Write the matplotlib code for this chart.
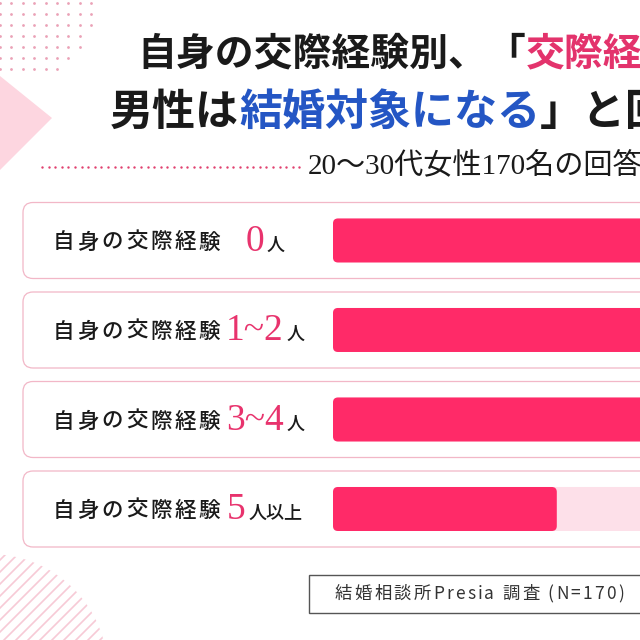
import numpy as np
import matplotlib
matplotlib.use("Agg")
import matplotlib.pyplot as plt
from matplotlib.patches import FancyBboxPatch, Polygon, Circle
from matplotlib.offsetbox import TextArea, HPacker, AnnotationBbox

plt.rcParams['font.family'] = ['Noto Sans CJK JP', 'DejaVu Sans']

# data
label_prefix = "自身の交際経験"
count_nums = ["0", "1~2", "3~4", "5"]
count_units = ["人", "人", "人", "人以上"]
values = [74, 68, 62, 37.3]   # % of track (rows 1-3 run past the crop)

title_line1 = [("自身の交際経験別、「", "#1a1a1a"), ("交際経", "#e3336c")]
title_line2 = [("男性は", "#1a1a1a"), ("結婚対象になる", "#2456c4"), ("」と回", "#1a1a1a")]
subtitle = "20～30代女性170名の回答"
source = "結婚相談所Presia 調査 (N=170)"

PINK = "#ff2a68"
TRACK = "#fde0e9"
SERIF = ['Liberation Serif', 'Noto Sans CJK JP']

fig = plt.figure(figsize=(6.4, 6.4), dpi=100)
ax = fig.add_axes([0, 0, 1, 1])
ax.set_xlim(0, 640)
ax.set_ylim(640, 0)
ax.axis('off')

# decorations: dots, triangle, stripes
row_len = [9, 9, 9, 8, 8, 7, 6]
for r, n in enumerate(row_len):
    xs = np.arange(n) * 11.4
    ax.scatter(xs, np.full(n, 3 + 11 * r), s=4, color="#eaa2b7", lw=0)

ax.add_patch(Polygon([(0, 76), (52, 118), (0, 170)], closed=True,
                     fc="#fdd6e0", ec="none"))

clip = Circle((-10, 672), 118, transform=ax.transData)
for c in np.arange(500, 820, 12):
    ln, = ax.plot([0, c], [c, 0], color="#f7cad6", lw=1.2)
    ln.set_clip_path(clip)


def packed(parts, x, y, sep=0, align=(0, 0.5)):
    areas = [TextArea(s, textprops=tp) for s, tp in parts]
    box = HPacker(children=areas, align="baseline", pad=0, sep=sep)
    ax.add_artist(AnnotationBbox(box, (x, y), xycoords='data',
                                 box_alignment=align, frameon=False, pad=0))


# title
packed([(s, dict(fontsize=28, color=c, weight='bold')) for s, c in title_line1], 137, 54)
packed([(s, dict(fontsize=31, color=c, weight='bold')) for s, c in title_line2], 110, 112)

dots_x = np.arange(42, 300, 6.6)
ax.scatter(dots_x, np.full(len(dots_x), 167), s=3, color="#e0406f", lw=0)
ax.text(308, 166, subtitle, fontsize=21, family=SERIF, color="#1a1a1a",
        ha='left', va='center')

# panels
row_y = 240.5 + 89.5 * np.arange(len(values))
for i, yc in enumerate(row_y):
    ax.add_patch(FancyBboxPatch((23, yc - 38), 720, 76,
                                boxstyle="round,pad=0,rounding_size=10",
                                fc="white", ec="#f2b7c7", lw=0.9))
    for k, ch in enumerate(label_prefix):
        ax.text(53 + 24.3 * k, yc + 2, ch, fontsize=15.5, color="#1a1a1a",
                weight=500, ha='left', va='center')
    packed([(count_nums[i], dict(fontsize=27, family=SERIF, color="#e8336d")),
            (count_units[i], dict(fontsize=13, color="#1a1a1a", weight=500))],
           265, yc + 1, sep=2, align=(0.5, 0.5))

# bars
px_per_unit = 6.0
bx = fig.add_axes([333 / 640, (640 - 555) / 640, 307 / 640, 360 / 640])
bx.set_xlim(0, 307 / px_per_unit)
bx.set_ylim(3.514, -0.508)
bx.axis('off')
bx.patch.set_alpha(0)
h = 44 / 89.5
aspect = px_per_unit / 89.5
rs = 5 / px_per_unit
for i, v in enumerate(values):
    bx.add_patch(FancyBboxPatch((0, i - h / 2), 100, h,
                                boxstyle=f"round,pad=0,rounding_size={rs}",
                                mutation_aspect=aspect, fc=TRACK, ec="none"))
    bx.add_patch(FancyBboxPatch((0, i - h / 2), v, h,
                                boxstyle=f"round,pad=0,rounding_size={rs}",
                                mutation_aspect=aspect, fc=PINK, ec="none"))

# source box
ax.add_patch(plt.Rectangle((309, 575), 400, 38, fc="white", ec="#555555", lw=1))
packed([(ch, dict(fontsize=12.5, color="#333333")) for ch in source],
       335, 594, sep=1.6)

fig.savefig("out.png", dpi=100, facecolor="white")
